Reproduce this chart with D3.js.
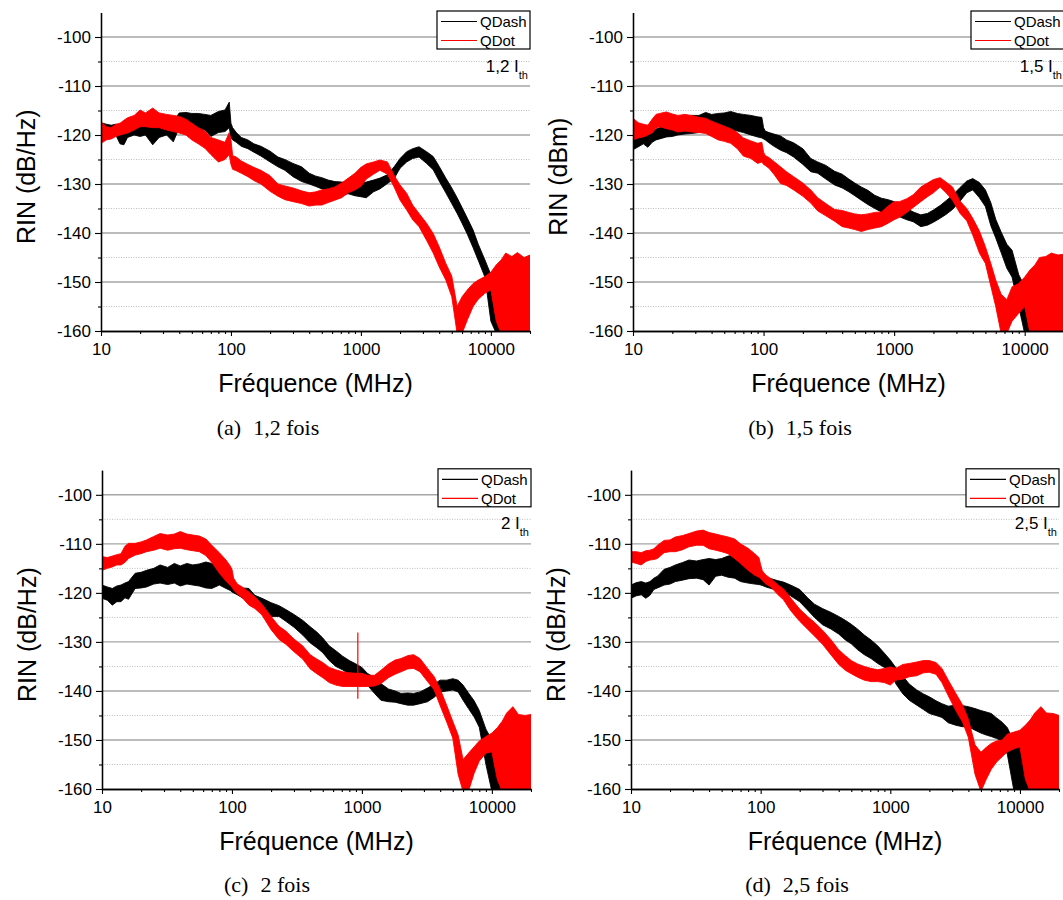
<!DOCTYPE html>
<html><head><meta charset="utf-8">
<script src="https://cdn.jsdelivr.net/npm/d3@7"></script>
<style>body{margin:0;background:#fff}svg{display:block}</style>
</head><body>
<svg id="chart" width="1063" height="900"></svg>
<script>
// ---- data (frequency grid in MHz, RIN envelopes in dB/Hz) ----
const FREQ = [10, 11, 12, 13, 14, 15, 16, 18, 20, 22,
 25, 28, 32, 36, 40, 45, 50, 56, 63, 70,
 80, 90, 97, 100, 103, 110, 120, 135, 150, 170,
 200, 230, 260, 300, 350, 400, 450, 500, 560, 630,
 710, 800, 900, 1000, 1100, 1250, 1400, 1600, 1800, 2000,
 2250, 2500, 2800, 3200, 3600, 4000, 4500, 5000, 5500, 6000,
 6600, 7300, 8000, 9000, 10000, 11000, 12000, 13000, 14500, 16000,
 18000, 20000];

// (a) 1,2 Ith
const qdashLoA = [-120.5, -120, -120.3, -120, -121.8, -122, -120.5, -120, -120.3, -120,
 -122, -120.5, -120, -121.4, -118.5, -118.3, -118.2, -118.7, -119, -120.3,
 -119.5, -119.3, -118.5, -120.5, -121, -121.5, -122.3, -122.8, -123.5, -124.3,
 -125.5, -126.5, -127.2, -128.5, -129.5, -130, -130.5, -131, -131.2, -131.8,
 -132.2, -132, -132.4, -132.6, -132.8, -131.6, -131, -129.9, -128.9, -126.8,
 -125.5, -124.8, -124.5, -125.8, -127.1, -129.4, -131.8, -134, -136, -138,
 -140.3, -143, -145.6, -149, -158, -160.5, -160.5, -160.5, -160.5, -160.5,
 -160.5, -160.5];
const qdashHiA = [-117.5, -117.8, -118, -117.8, -118.5, -118.8, -118.2, -117.8, -117.6, -117.8,
 -118, -117.5, -117.3, -117.2, -115.5, -115.4, -115.6, -115.6, -115.8, -116,
 -115.2, -114.9, -113.3, -117.6, -118.5, -119.5, -120.5, -121, -121.8, -122.3,
 -123.3, -124.5, -125, -125.8, -126.5, -127.8, -128.4, -128.7, -129.2, -129.5,
 -129.6, -129.8, -130, -130, -129.6, -129.2, -128.8, -128.1, -126.5, -124.8,
 -123.4, -122.8, -122.4, -123.4, -124.4, -126.4, -128.8, -130.8, -132.8, -134.8,
 -137, -139.4, -142.3, -145.5, -148.5, -150.5, -151.5, -152, -152, -152,
 -152, -152];
const qdotLoA = [-121.7, -121, -120.8, -120.3, -120, -119.8, -119.6, -119, -118.3, -118.3,
 -118.5, -118.5, -119, -119.3, -119.6, -120, -121, -121.8, -122.7, -124,
 -125.5, -125, -124, -126, -127, -127.3, -127.8, -128.5, -129.3, -130,
 -131.5, -132.5, -133.2, -133.6, -134, -134.5, -134.3, -134.3, -133.8, -133.3,
 -132.8, -131.8, -131.2, -130.5, -129, -128, -127.2, -128, -130.6, -133.3,
 -135.3, -137.3, -138.7, -141.5, -144.1, -146.9, -149.6, -153, -160.5, -160.5,
 -157.7, -155, -153.5, -152.3, -151.6, -158, -160.5, -160.5, -160.5, -160.5,
 -160.5, -160.5];
const qdotHiA = [-117.3, -118.3, -118.5, -117.8, -117.6, -117, -116.5, -116, -114.9, -115.5,
 -114.5, -115.5, -115.8, -116, -116.2, -116.8, -117.6, -118.5, -119.2, -120.5,
 -121, -121.5, -119.5, -121, -124.2, -124.5, -125.3, -126, -126.6, -127.2,
 -128.3, -130, -130.4, -130.8, -131.4, -131.8, -131.6, -131.2, -131, -130.6,
 -129.8, -128.8, -127.8, -126.6, -125.9, -125.5, -125.1, -125.5, -128.2, -130.2,
 -131.9, -134.3, -136, -138, -140.1, -142.8, -146.2, -148.8, -155, -153,
 -151.6, -150.3, -149.6, -148.9, -148, -146.5, -145.5, -144.1, -144.8, -144,
 -145, -144.5];

// (b) 1,5 Ith
const qdashLoB = [-123, -122.4, -121.8, -122.5, -121.5, -121, -120.8, -120.4, -120.3, -120,
 -119.8, -119.7, -119.5, -119, -118.8, -118.7, -118.5, -119, -119.2, -119.5,
 -120, -120.4, -120.6, -120.8, -121, -121.6, -122.3, -123.1, -123.6, -124.5,
 -126, -127.5, -127.8, -129, -130.2, -130.8, -131.6, -132.4, -133.3, -134.2,
 -135, -135.7, -136.1, -136.4, -136.7, -137.3, -137.7, -138.7, -138.4, -137.8,
 -137, -136.2, -135.2, -133.5, -131.8, -131.2, -132.8, -134.6, -138.5, -141,
 -144, -147.2, -149, -155, -160.5, -160.5, -160.5, -160.5, -160.5, -160.5,
 -160.5, -160.5];
const qdashHiB = [-119, -119.5, -119.7, -119.6, -119.4, -118.8, -118.5, -118, -117.8, -117.7,
 -117, -116, -116, -115.4, -115.8, -115.6, -115.5, -115.2, -115.6, -115.8,
 -116, -116.3, -116.4, -118.5, -119.2, -119.5, -119.8, -120.2, -121, -121.6,
 -122.8, -124.8, -125.5, -126.2, -127.4, -128, -129, -129.8, -130.6, -131.3,
 -132.3, -132.9, -133.2, -133.6, -134.3, -135, -135.7, -136.3, -136, -135.3,
 -134.4, -133.4, -132.3, -130.7, -129.4, -128.9, -129.7, -131.2, -133.8, -137.2,
 -139.8, -142.3, -143.5, -148.5, -150.9, -151, -151.5, -152, -152, -152,
 -152, -152];
const qdotLoB = [-121, -120.6, -120.4, -120, -119.6, -118.6, -118.3, -118.7, -119, -119.4,
 -119.2, -119.4, -119.5, -119.7, -120.3, -121, -121.3, -121.7, -122.8, -124.3,
 -124.8, -125.8, -125.5, -126, -126.2, -126.8, -128, -129.9, -130.3, -131.2,
 -132.5, -133.9, -135.5, -136.5, -137.6, -138.7, -139, -139.3, -139.7, -139.3,
 -139, -138.7, -138, -137.3, -136.8, -135.8, -134.8, -133.6, -132.6, -131.8,
 -130.6, -131.8, -133.3, -136, -137.5, -140.4, -144.1, -146.2, -150.8, -155,
 -160.5, -160.5, -158, -156.4, -155, -160.5, -160.5, -160.5, -160.5, -160.5,
 -160.5, -160.5];
const qdotHiB = [-116.6, -117.5, -117.8, -118, -116.8, -115.8, -115.6, -115.3, -115.7, -116,
 -115.8, -116, -116.4, -116.6, -117.2, -117.7, -118.2, -118.7, -119.5, -120.6,
 -121.2, -121.7, -121.5, -123.5, -124.2, -124.6, -125.4, -126.5, -127.5, -128.5,
 -129.8, -131.2, -132.8, -134, -135.2, -135.4, -135.8, -136.1, -136.3, -136.1,
 -135.8, -135.7, -134.5, -133.6, -133.6, -133, -132.2, -130.6, -129.8, -129.1,
 -128.7, -129.6, -130.6, -133.5, -135, -137, -139.6, -142.8, -146.2, -149.6,
 -152.5, -153.6, -151, -150.3, -149, -147.5, -146.5, -145, -144.8, -144.1,
 -144.5, -144.3];

// (c) 2 Ith
const qdashLoC = [-121.1, -121.5, -122.5, -121.8, -121.8, -121, -121.3, -119.1, -119, -118.8,
 -118.2, -118, -118.3, -118, -118.6, -118.2, -118.4, -118.6, -119, -119.1,
 -118.4, -119.1, -119.5, -119.8, -120, -120.4, -121, -121.5, -122.6, -123.5,
 -124.8, -124.8, -125.8, -127, -128.6, -130.2, -131.2, -132.2, -133.8, -135,
 -135.7, -136.6, -137.3, -137.9, -138.8, -140.5, -141.9, -142.2, -142.3, -142.6,
 -142.9, -142.9, -142.6, -142.2, -141.3, -140.2, -140, -139.8, -140.2, -141.9,
 -143.6, -145.3, -147.4, -155, -160.5, -160.5, -160.5, -160.5, -160.5, -160.5,
 -160.5, -160.5];
const qdashHiC = [-118.4, -118.8, -119.1, -118.6, -118.4, -118, -117.7, -116, -115.8, -115.4,
 -115, -114.3, -114.8, -114, -114.5, -114, -114.3, -114.1, -113.7, -114,
 -115, -116, -117, -117.4, -118, -118.8, -119, -119.1, -120.5, -121.1,
 -122, -122.6, -123.4, -124.4, -125.6, -126.9, -128, -129.2, -130.8, -131.8,
 -132.9, -133.8, -134.5, -135.2, -136.4, -137.3, -138.5, -139.6, -140, -140.5,
 -140.4, -140.5, -140.2, -139.4, -138.6, -137.8, -137.8, -137.5, -137.8, -138.8,
 -140.4, -142, -144, -147.8, -150, -150.5, -151, -152, -152, -152,
 -152, -152];
const qdotLoC = [-115.4, -115, -114.7, -114.3, -114.3, -113.8, -113, -112.3, -112, -111.6,
 -111.3, -110.9, -111.3, -111, -110.9, -111.2, -111.4, -111.6, -112.4, -113.8,
 -116, -117.6, -118.5, -118.8, -119.4, -120.2, -121, -122.5, -123.2, -124.5,
 -127.5, -129.5, -130.5, -132, -133.5, -135.5, -136.5, -137.3, -138.3, -138.8,
 -139.1, -139.1, -139.1, -139.1, -139.1, -139, -138.5, -137.3, -136.6, -136.1,
 -135.5, -135.4, -136.1, -138.1, -139.8, -143, -146.4, -149.6, -157, -160.5,
 -160.5, -156.8, -154.3, -152.7, -152.4, -158, -160.5, -160.5, -160.5, -160.5,
 -160.5, -160.5];
const qdotHiC = [-112.6, -112.8, -112.5, -112.2, -112, -110.5, -109.9, -109.9, -109.6, -109.2,
 -108.5, -107.9, -108.2, -108, -107.5, -108, -108.2, -108.4, -109, -110.3,
 -111.8, -113.3, -114.5, -115.2, -117, -118.2, -118.8, -119.8, -120.8, -122.3,
 -124.8, -126.8, -127.8, -129.4, -130.8, -132.6, -133.5, -134.2, -135.2, -135.7,
 -136.1, -136.3, -136.4, -136.4, -136.8, -136.8, -135.8, -134.5, -133.7, -133.4,
 -132.8, -132.6, -133.4, -135.4, -137.1, -139.6, -143, -146.2, -149, -154,
 -152.7, -151.4, -150.2, -149.3, -148.6, -147.5, -146.2, -144.5, -143.2, -144.8,
 -145, -144.8];
// isolated spike on the QDot trace of panel (c): [frequency, low, high]
const qdotSpikeC = [[930, -141.6, -128.1]];

// (d) 2,5 Ith
const qdashLoD = [-121.1, -120.6, -120.4, -121.1, -120.5, -119.3, -119, -118.4, -118.2, -117.7,
 -117.4, -117.1, -117, -117.3, -118.4, -116.6, -116.4, -116.8, -117, -117.7,
 -118, -118.2, -118.3, -118.4, -118.5, -118.8, -119.1, -119.5, -119.8, -120.6,
 -121.8, -123.5, -125, -126.5, -127.4, -128.4, -129.6, -130.4, -131.6, -132.6,
 -133.4, -134.4, -135.2, -135.8, -138.5, -140.6, -141.9, -142.9, -143.8, -144.6,
 -145, -145.4, -146.5, -147, -147.3, -147.3, -148, -148.6, -149, -149.3,
 -149.7, -150.2, -153, -160.5, -160.5, -160.5, -160.5, -160.5, -160.5, -160.5,
 -160.5, -160.5];
const qdashHiD = [-118.4, -117.9, -117.7, -118, -117.7, -117, -116.6, -115.2, -114.8, -114.3,
 -113.8, -113.3, -113.5, -113.2, -113, -113.2, -113, -112.5, -112.3, -113.7,
 -114.8, -115.6, -116.2, -116.4, -116.6, -116.9, -117.1, -117.5, -117.8, -118.4,
 -119.3, -121, -122.3, -123.2, -124, -124.8, -125.6, -126.4, -127.4, -128.6,
 -129.6, -130.8, -132.3, -133.7, -135.2, -137, -138.6, -139.8, -140.6, -141.2,
 -142, -142.6, -143.1, -142.9, -143, -143.2, -143.6, -144, -144.3, -144.6,
 -145.5, -146.4, -147.5, -150.5, -151, -150, -150.5, -152, -152, -152,
 -152, -152];
const qdotLoD = [-113.7, -114, -114.3, -113.6, -113.3, -113.2, -113, -111.8, -111.6, -111.6,
 -111.2, -110.6, -110.3, -110.3, -111, -111.3, -111.6, -112, -113, -114,
 -115.4, -116.4, -116.8, -117.1, -117.5, -118.2, -118.8, -120.3, -121.4, -123.6,
 -125.8, -127.4, -128.8, -130.5, -132.7, -134.6, -135.8, -136.5, -137.2, -137.8,
 -138.1, -138.1, -138.3, -138.8, -137.8, -137.6, -137.1, -136.9, -136.3, -136.2,
 -136.6, -138.3, -141, -144, -146.3, -149.5, -157, -160.5, -158, -156,
 -154.5, -153.4, -152.4, -151.8, -151.4, -158, -160.5, -160.5, -160.5, -160.5,
 -160.5, -160.5];
const qdotHiD = [-111.6, -111.6, -111.8, -111.4, -111.3, -111, -110.3, -109.3, -109.2, -108.6,
 -108.3, -107.9, -107.4, -107.2, -107.7, -108, -108.3, -108.6, -109, -110,
 -110.9, -112, -112.8, -114.3, -115.5, -116.4, -117.1, -118.3, -119.2, -121,
 -123.3, -124.8, -126, -127.6, -129.6, -131.6, -132.8, -133.8, -134.5, -135,
 -135.4, -135.7, -135.4, -135.1, -135.4, -134.6, -134.4, -134.1, -133.8, -133.8,
 -134.2, -135.4, -137.8, -140.5, -142.8, -145.8, -151, -152.5, -151.5, -150.7,
 -150.2, -150, -148.8, -148.4, -148, -147, -145.9, -144.5, -143.2, -144.5,
 -144.6, -145];

const SERIES_NAMES = ["QDash", "QDot"];
const SERIES_COLORS = ["#000000", "#ff0000"];
const Y_TICKS = [-160, -150, -140, -130, -120, -110, -100];
const Y_MINOR = [-155, -145, -135, -125, -115, -105];
const X_TICKS = [10, 100, 1000, 10000];
const X_MINOR = [20,30,40,50,60,70,80,90,200,300,400,500,600,700,800,900,
                 2000,3000,4000,5000,6000,7000,8000,9000,20000];
const Y_LABELS = ["RIN (dB/Hz)", "RIN (dBm)", "RIN (dB/Hz)", "RIN (dB/Hz)"];
const NOTES = ["1,2", "1,5", "2", "2,5"];
const CAP_LETTERS = ["(a)", "(b)", "(c)", "(d)"];
const CAP_TEXTS = ["1,2 fois", "1,5 fois", "2 fois", "2,5 fois"];
const X_TITLE = "Fréquence (MHz)";

const PANEL_DATA = [
  {dash: [qdashLoA, qdashHiA], dot: [qdotLoA, qdotHiA], spikes: []},
  {dash: [qdashLoB, qdashHiB], dot: [qdotLoB, qdotHiB], spikes: []},
  {dash: [qdashLoC, qdashHiC], dot: [qdotLoC, qdotHiC], spikes: qdotSpikeC},
  {dash: [qdashLoD, qdashHiD], dot: [qdotLoD, qdotHiD], spikes: []}
];

// ---- layout ----
const LAYOUT = [
  {x0: 101, x1: 530,  yTop: 12.5,  yBot: 331, capX: 268, capY: 435},
  {x0: 633, x1: 1064, yTop: 12.5,  yBot: 331, capX: 800, capY: 435},
  {x0: 102, x1: 531,  yTop: 470.3, yBot: 789, capX: 267, capY: 892},
  {x0: 631, x1: 1059, yTop: 470.3, yBot: 789, capX: 797, capY: 892}
];
const SANS = "'Liberation Sans', Arial, Helvetica, sans-serif";
const SERIF = "'Liberation Serif', 'Times New Roman', serif";

const svg = d3.select("#chart");
svg.append("rect").attr("width", 1063).attr("height", 900).attr("fill", "#fff");
const defs = svg.append("defs");

PANEL_DATA.forEach((pd, i) => {
  const L = LAYOUT[i];
  const x = d3.scaleLog().domain([10, 20000]).range([L.x0, L.x1]);
  const y = d3.scaleLinear().domain([-160, -95]).range([L.yBot, L.yTop]);
  const g = svg.append("g");

  defs.append("clipPath").attr("id", "clip" + i)
    .append("rect").attr("x", L.x0).attr("y", L.yTop)
    .attr("width", L.x1 - L.x0).attr("height", L.yBot - L.yTop);

  // grid
  g.append("g").selectAll("line").data(Y_TICKS.filter(v => v > -160)).join("line")
    .attr("x1", L.x0).attr("x2", L.x1).attr("y1", d => y(d)).attr("y2", d => y(d))
    .attr("stroke", "#a6a6a6").attr("stroke-width", 1.4);
  g.append("g").selectAll("line").data(Y_MINOR).join("line")
    .attr("x1", L.x0).attr("x2", L.x1).attr("y1", d => y(d)).attr("y2", d => y(d))
    .attr("stroke", "#bdbdbd").attr("stroke-width", 1).attr("stroke-dasharray", "1,1.5");

  // series
  const plot = g.append("g").attr("clip-path", `url(#clip${i})`);
  [pd.dash, pd.dot].forEach((s, k) => {
    const [lo, hi] = s;
    const area = d3.area()
      .x((d, j) => x(FREQ[j]))
      .y0((d, j) => y(lo[j]))
      .y1((d, j) => y(hi[j]));
    plot.append("path").datum(FREQ).attr("d", area)
      .attr("fill", SERIES_COLORS[k]).attr("stroke", SERIES_COLORS[k])
      .attr("stroke-width", 0.9).attr("stroke-linejoin", "round");
  });
  plot.selectAll("line.spike").data(pd.spikes).join("line").attr("class", "spike")
    .attr("x1", d => x(d[0])).attr("x2", d => x(d[0]))
    .attr("y1", d => y(d[1])).attr("y2", d => y(d[2]))
    .attr("stroke", SERIES_COLORS[1]).attr("stroke-width", 1.2);

  // axes
  const yAxis = g.append("g").attr("transform", `translate(${L.x0},0)`)
    .call(d3.axisLeft(y).tickValues(Y_TICKS).tickFormat(d => String(d))
      .tickSize(6).tickSizeOuter(0).tickPadding(4));
  g.append("g").attr("transform", `translate(${L.x0},0)`)
    .call(d3.axisLeft(y).tickValues(Y_MINOR).tickFormat("").tickSize(3).tickSizeOuter(0));
  const xAxis = g.append("g").attr("transform", `translate(0,${L.yBot})`)
    .call(d3.axisBottom(x).tickValues(X_TICKS).tickFormat(d => String(d))
      .tickSize(5).tickSizeOuter(0).tickPadding(7));
  g.append("g").attr("transform", `translate(0,${L.yBot})`)
    .call(d3.axisBottom(x).tickValues(X_MINOR).tickFormat("").tickSize(3).tickSizeOuter(0));
  g.selectAll(".domain").attr("stroke", "#000").attr("stroke-width", 1.3);
  g.selectAll(".tick line").attr("stroke", "#000").attr("stroke-width", 1.1);
  g.selectAll(".tick text").attr("font-family", SANS).attr("font-size", 17).attr("fill", "#000");

  // axis titles
  g.append("text")
    .attr("transform", `translate(${L.x0 - 66},${(L.yTop + L.yBot) / 2 + 5}) rotate(-90)`)
    .attr("text-anchor", "middle").attr("font-family", SANS).attr("font-size", 25)
    .text(Y_LABELS[i]);
  g.append("text").attr("x", (L.x0 + L.x1) / 2).attr("y", L.yBot + 61)
    .attr("text-anchor", "middle").attr("font-family", SANS).attr("font-size", 25)
    .text(X_TITLE);

  // legend
  const bx = L.x1 - 93, by = L.yTop - 1.5;
  const lg = g.append("g");
  lg.append("rect").attr("x", bx).attr("y", by).attr("width", 93).attr("height", 38)
    .attr("fill", "#fff").attr("stroke", "#000").attr("stroke-width", 1.2);
  SERIES_NAMES.forEach((nm, k) => {
    const ry = by + 10.5 + k * 19;
    lg.append("line").attr("x1", bx + 4).attr("x2", bx + 40).attr("y1", ry).attr("y2", ry)
      .attr("stroke", SERIES_COLORS[k]).attr("stroke-width", 1.2);
    lg.append("text").attr("x", bx + 43).attr("y", ry + 5.5)
      .attr("font-family", SANS).attr("font-size", 15).text(nm);
  });

  // current annotation
  const nt = g.append("text").attr("x", L.x1 - 2).attr("y", L.yTop + 59)
    .attr("text-anchor", "end").attr("font-family", SANS).attr("font-size", 17);
  nt.append("tspan").text(NOTES[i] + " I");
  nt.append("tspan").attr("font-size", 11).attr("dy", 7).text("th");

  // caption
  const cp = svg.append("text").attr("x", L.capX).attr("y", L.capY)
    .attr("text-anchor", "middle").attr("font-family", SERIF).attr("font-size", 22);
  cp.append("tspan").text(CAP_LETTERS[i]);
  cp.append("tspan").attr("dx", 12).text(CAP_TEXTS[i]);
});
</script>
</body></html>
